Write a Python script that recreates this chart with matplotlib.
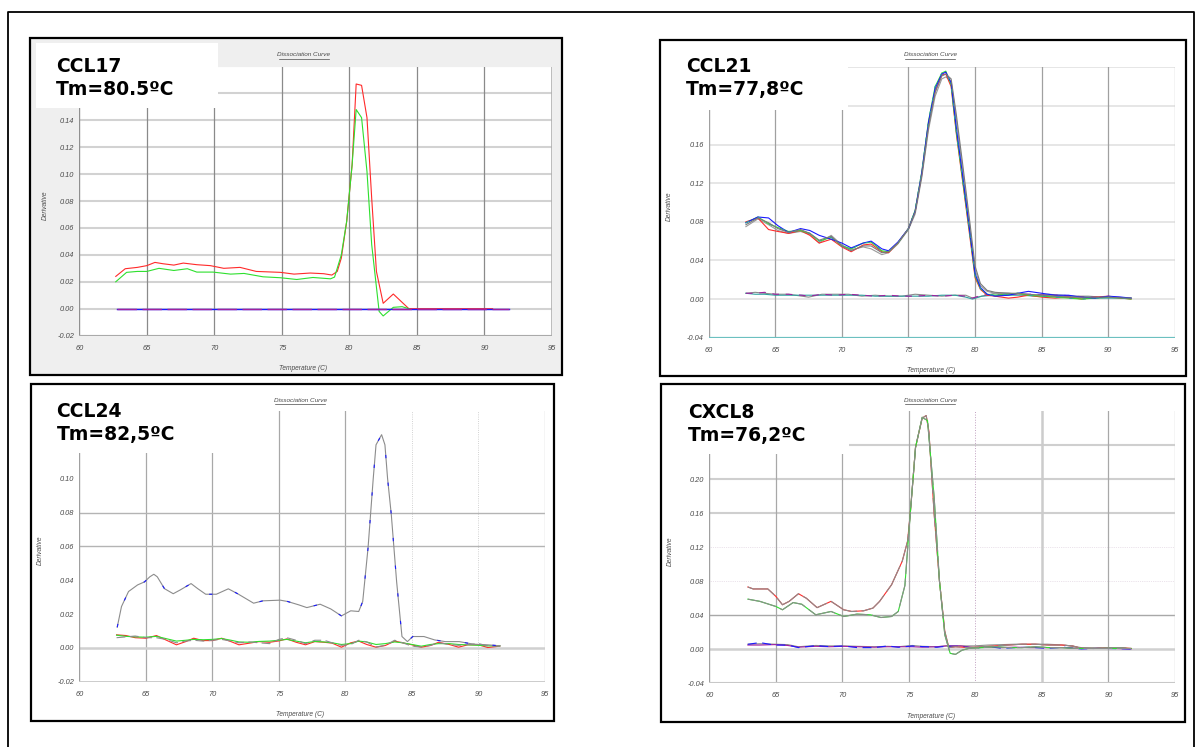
import matplotlib
matplotlib.use("Agg")
import matplotlib.pyplot as plt
from matplotlib.patches import Rectangle
import numpy as np

# ---------------- data ----------------
x_ticks = [60, 65, 70, 75, 80, 85, 90, 95]

# CCL17
ccl17_t_red = [62.7, 63.4, 64.3, 65.0, 65.6, 66.2, 67.0, 67.7, 68.7, 69.7, 70.7, 71.9, 73.1, 74.9, 75.9,
               77.1, 78.1, 78.7, 79.1, 79.4, 79.8, 80.2, 80.5, 80.9, 81.3, 81.65, 82.0, 82.5, 83.25, 84.4,
               86.0, 88.0, 90.0, 90.6]
ccl17_red = [0.024, 0.0297, 0.0307, 0.032, 0.0344, 0.0334, 0.0324, 0.0339, 0.0327, 0.032, 0.030, 0.0307,
             0.0277, 0.027, 0.0257, 0.0265, 0.026, 0.025, 0.0277, 0.0376, 0.065, 0.107, 0.167, 0.166, 0.142,
             0.082, 0.0277, 0.004, 0.0109, 0.000, 0.0, 0.0, 0.0, 0.0]
ccl17_t_green = [62.7, 63.5, 64.3, 65.0, 65.9, 67.0, 68.0, 68.7, 69.9, 71.2, 72.2, 73.6, 74.9, 76.1, 77.3,
                 78.6, 78.9, 79.4, 79.8, 80.2, 80.5, 80.9, 81.3, 81.65, 82.2, 82.5, 83.25, 83.9, 84.4]
ccl17_green = [0.020, 0.027, 0.0277, 0.0277, 0.030, 0.0284, 0.0297, 0.0272, 0.0272, 0.0257, 0.0262, 0.0237,
               0.023, 0.0217, 0.0232, 0.0222, 0.0235, 0.040, 0.065, 0.107, 0.148, 0.142, 0.102, 0.0476,
               -0.002, -0.0054, 0.001, 0.0015, 0.0]
ccl17_t_base = [62.8, 91.8]
ccl17_blue = [0.0, 0.0]
ccl17_purple = [0.0, 0.0]

# CCL21
ccl21_t = [62.8, 63.7, 64.5, 65.2, 66.0, 66.9, 67.6, 68.3, 69.2, 70.0, 70.7, 71.6, 72.2, 73.0, 73.5, 74.2,
           75.0, 75.5, 76.0, 76.5, 77.0, 77.5, 77.8, 78.2, 78.6, 79.1, 79.6, 80.0, 80.4, 80.9, 81.5, 82.5,
           83.2, 84.0, 85.0, 86.0, 87.0, 88.0, 89.0, 90.0, 91.0, 91.7]
ccl21_red = [0.080, 0.084, 0.072, 0.070, 0.068, 0.071, 0.066, 0.058, 0.062, 0.054, 0.049, 0.056, 0.057,
             0.049, 0.048, 0.058, 0.073, 0.091, 0.130, 0.182, 0.215, 0.232, 0.233, 0.220, 0.170, 0.118,
             0.065, 0.022, 0.010, 0.004, 0.003, 0.001, 0.002, 0.004, 0.002, 0.001, 0.002, 0.000, 0.002,
             0.003, 0.001, 0.000]
ccl21_green = [0.079, 0.085, 0.078, 0.074, 0.070, 0.071, 0.068, 0.060, 0.064, 0.055, 0.052, 0.058, 0.059,
               0.050, 0.049, 0.058, 0.073, 0.092, 0.132, 0.184, 0.220, 0.234, 0.236, 0.222, 0.172, 0.120,
               0.068, 0.024, 0.011, 0.005, 0.004, 0.005, 0.006, 0.004, 0.003, 0.002, 0.001, 0.000, 0.001,
               0.002, 0.001, 0.000]
ccl21_blue = [0.079, 0.085, 0.084, 0.076, 0.069, 0.073, 0.071, 0.066, 0.062, 0.058, 0.053, 0.058, 0.060,
              0.052, 0.050, 0.059, 0.073, 0.091, 0.131, 0.183, 0.218, 0.233, 0.235, 0.224, 0.176, 0.124,
              0.070, 0.026, 0.012, 0.005, 0.003, 0.004, 0.006, 0.008, 0.006, 0.004, 0.004, 0.002, 0.001,
              0.003, 0.002, 0.001]
ccl21_gray1 = [0.075, 0.083, 0.077, 0.071, 0.068, 0.070, 0.067, 0.058, 0.066, 0.056, 0.051, 0.054, 0.052,
               0.046, 0.048, 0.057, 0.072, 0.088, 0.126, 0.175, 0.210, 0.228, 0.230, 0.226, 0.185, 0.130,
               0.075, 0.030, 0.014, 0.008, 0.006, 0.006, 0.005, 0.004, 0.004, 0.003, 0.002, 0.001, 0.001,
               0.002, 0.001, 0.001]
ccl21_gray2 = [0.077, 0.084, 0.079, 0.073, 0.069, 0.072, 0.068, 0.061, 0.065, 0.055, 0.050, 0.055, 0.055,
               0.048, 0.049, 0.058, 0.073, 0.090, 0.128, 0.178, 0.214, 0.231, 0.233, 0.228, 0.190, 0.136,
               0.080, 0.034, 0.016, 0.009, 0.007, 0.006, 0.006, 0.005, 0.004, 0.003, 0.002, 0.002, 0.002,
               0.002, 0.001, 0.001]
ccl21_t_base = [62.8, 63.5, 64.2, 65.0, 66.0, 67.0, 67.5, 68.5, 69.5, 70.5, 71.5, 72.5, 73.5, 74.5, 75.5,
                76.5, 77.5, 78.5, 79.3, 79.8, 80.5, 81.5, 82.5, 83.5, 84.5, 85.5, 86.5, 87.5, 88.5, 89.5,
                90.5, 91.7]
ccl21_base_purple = [0.006, 0.006, 0.007, 0.005, 0.005, 0.004, 0.003, 0.005, 0.004, 0.005, 0.004, 0.003,
                     0.004, 0.003, 0.003, 0.004, 0.003, 0.004, 0.003, 0.001, 0.004, 0.005, 0.005, 0.005,
                     0.005, 0.004, 0.004, 0.003, 0.002, 0.002, 0.002, 0.001]
ccl21_base_gray = [0.006, 0.007, 0.006, 0.005, 0.005, 0.003, 0.002, 0.005, 0.005, 0.005, 0.003, 0.004,
                   0.003, 0.003, 0.005, 0.004, 0.003, 0.004, 0.004, 0.001, 0.003, 0.006, 0.006, 0.005,
                   0.004, 0.005, 0.004, 0.003, 0.003, 0.002, 0.002, 0.001]
ccl21_base_teal = [0.006, 0.005, 0.005, 0.004, 0.004, 0.004, 0.004, 0.004, 0.004, 0.004, 0.004, 0.003,
                   0.003, 0.003, 0.003, 0.003, 0.004, 0.004, 0.002, 0.000, 0.003, 0.004, 0.004, 0.004,
                   0.003, 0.003, 0.003, 0.002, 0.002, 0.001, 0.001, 0.001]

# CCL24
ccl24_t_main = [62.85, 63.17, 63.7, 64.38, 64.9, 65.3, 65.6, 65.86, 66.4, 67.06, 67.6, 68.4, 68.9, 69.5,
                70.3, 71.2, 71.9, 73.1, 73.8, 75.1, 75.66, 76.5, 77.1, 78.1, 78.9, 79.7, 80.4, 81.0, 81.3,
                81.7, 82.09, 82.3, 82.72, 82.97, 83.17, 83.45, 83.85, 84.25, 84.66, 85.06, 85.9, 86.7, 87.5,
                88.55, 89.6, 90.7, 91.64]
ccl24_main = [0.0122, 0.0244, 0.0333, 0.0372, 0.039, 0.042, 0.0435, 0.042, 0.035, 0.032, 0.0343, 0.038,
              0.035, 0.0317, 0.0317, 0.0349, 0.032, 0.0264, 0.0278, 0.0282, 0.0274, 0.0254, 0.0238, 0.0258,
              0.023, 0.0189, 0.0219, 0.0215, 0.0274, 0.059, 0.100, 0.120, 0.126, 0.120, 0.100, 0.0786,
              0.039, 0.0067, 0.0037, 0.0067, 0.0067, 0.0047, 0.0037, 0.0037, 0.0022, 0.0018, 0.0012]
ccl24_t_low = [62.8, 63.5, 64.2, 65.0, 65.8, 66.5, 67.3, 68.0, 68.6, 69.3, 70.0, 70.7, 71.4, 72.0, 72.8,
               73.5, 74.3, 75.0, 75.6, 76.3, 77.0, 77.7, 78.4, 79.0, 79.7, 80.4, 81.0, 81.6, 82.3, 83.0,
               83.7, 84.3, 85.0, 85.7, 86.4, 87.0, 87.8, 88.5, 89.2, 90.0, 90.7, 91.6]
ccl24_red = [0.0077, 0.0073, 0.006, 0.0057, 0.0073, 0.0047, 0.0018, 0.0037, 0.0057, 0.0043, 0.0043, 0.0057,
             0.0037, 0.0018, 0.0028, 0.0037, 0.0033, 0.0041, 0.0053, 0.0033, 0.0018, 0.0037, 0.0033, 0.0028,
             0.0004, 0.003, 0.004, 0.002, 0.0004, 0.0014, 0.004, 0.003, 0.0018, 0.0004, 0.0014, 0.0033,
             0.002, 0.0004, 0.0018, 0.0018, 0.0002, 0.001]
ccl24_green = [0.0075, 0.0068, 0.0065, 0.0063, 0.0068, 0.0055, 0.004, 0.0045, 0.005, 0.0048, 0.005, 0.0055,
               0.0045, 0.0035, 0.0033, 0.0038, 0.004, 0.0045, 0.005, 0.004, 0.003, 0.0038, 0.0035, 0.003,
               0.002, 0.0025, 0.004, 0.0035, 0.002, 0.0025, 0.0035, 0.003, 0.002, 0.001, 0.002, 0.0025,
               0.0025, 0.002, 0.0018, 0.0015, 0.0012, 0.0012]
ccl24_gray = [0.006, 0.0065, 0.007, 0.006, 0.006, 0.005, 0.003, 0.004, 0.0045, 0.004, 0.0045, 0.005, 0.004,
              0.003, 0.0035, 0.003, 0.0025, 0.005, 0.006, 0.0045, 0.0025, 0.0045, 0.0045, 0.003, 0.0015,
              0.002, 0.0045, 0.0035, 0.0005, 0.0015, 0.0045, 0.003, 0.001, 0.0005, 0.0015, 0.003, 0.002,
              0.0015, 0.002, 0.0025, 0.0012, 0.001]

# CXCL8
cxcl8_t_red = [62.9, 63.3, 64.4, 65.0, 65.5, 66.0, 66.7, 67.3, 68.1, 69.15, 70.1, 70.7, 71.6, 72.3, 72.8,
               73.7, 74.5, 74.9, 75.1, 75.5, 76.0, 76.3, 76.5, 76.9, 77.3, 77.7, 78.0, 78.5, 79.5, 80.5,
               81.5, 82.5, 83.5, 84.5, 85.5, 86.5, 87.3, 88.0, 89.0, 90.0, 91.0, 91.7]
cxcl8_red = [0.0733, 0.071, 0.071, 0.0623, 0.0524, 0.0564, 0.0654, 0.060, 0.049, 0.0564, 0.0465, 0.0445,
             0.0453, 0.0485, 0.0564, 0.076, 0.1036, 0.127, 0.159, 0.2376, 0.272, 0.275, 0.257, 0.159, 0.080,
             0.021, 0.002, 0.003, 0.002, 0.003, 0.004, 0.005, 0.006, 0.006, 0.005, 0.005, 0.004, 0.001,
             0.001, 0.002, 0.002, 0.001]
cxcl8_t_green = [62.9, 63.8, 65.0, 65.5, 66.3, 66.95, 68.0, 69.15, 70.1, 71.1, 72.1, 72.9, 73.7, 74.2, 74.7,
                 75.1, 75.5, 76.0, 76.4, 76.9, 77.3, 77.7, 78.1, 78.5, 79.0, 79.5, 80.5, 81.5, 82.5, 83.5,
                 84.5, 85.5, 86.5, 87.5, 88.5, 89.5, 90.5, 91.7]
cxcl8_green = [0.059, 0.0564, 0.0504, 0.0465, 0.055, 0.053, 0.0406, 0.0445, 0.0386, 0.0414, 0.0406, 0.0374,
               0.0386, 0.0445, 0.075, 0.159, 0.2376, 0.273, 0.269, 0.1785, 0.080, 0.017, -0.0047, -0.006,
               -0.001, 0.001, 0.002, 0.003, 0.002, 0.002, 0.003, 0.002, 0.002, 0.001, 0.001, 0.001, 0.001,
               0.001]
cxcl8_t_base = [62.9, 63.8, 64.9, 65.9, 66.7, 68.0, 69.0, 70.1, 71.1, 72.4, 73.4, 74.2, 75.25, 76.0, 77.1,
                77.8, 78.9, 79.9, 80.95, 82.0, 83.0, 84.1, 85.4, 86.65, 87.95, 89.25, 90.5, 91.7]
cxcl8_blue = [0.0059, 0.0079, 0.005, 0.005, 0.002, 0.0043, 0.0032, 0.0039, 0.002, 0.002, 0.0039, 0.0024,
              0.0039, 0.0032, 0.0024, 0.0035, 0.0035, 0.0012, 0.0032, 0.0012, 0.002, 0.0024, 0.0012, 0.0024,
              0.0004, 0.0012, 0.0008, 0.0004]
cxcl8_purple = [0.005, 0.005, 0.0055, 0.0045, 0.0025, 0.0035, 0.003, 0.0035, 0.003, 0.0025, 0.003, 0.003,
                0.003, 0.0025, 0.003, 0.004, 0.004, 0.002, 0.0025, 0.002, 0.0025, 0.002, 0.002, 0.002, 0.001,
                0.001, 0.001, 0.0005]
cxcl8_gray = [0.006, 0.0065, 0.006, 0.0055, 0.003, 0.0045, 0.004, 0.004, 0.0035, 0.003, 0.0035, 0.003,
              0.0045, 0.0035, 0.003, 0.004, 0.004, 0.004, 0.005, 0.0055, 0.006, 0.006, 0.006, 0.005, 0.002,
              0.0015, 0.001, 0.0008]

labels = [("CCL17", "Tm=80.5ºC"), ("CCL21", "Tm=77,8ºC"), ("CCL24", "Tm=82,5ºC"), ("CXCL8", "Tm=76,2ºC")]
title_text = "Dissociation Curve"
xlabel_text = "Temperature (C)"
ylabel_text = "Derivative"

# ---------------- styles ----------------
RED, GREEN, BLUE = "#ff2a2a", "#2ee02e", "#1a1aff"
GRAY, PURPLE, TEAL = "#8c8c8c", "#a020a0", "#2fa0a0"
LW = 0.8
SMALL = dict(family="Liberation Sans", style="italic", color="#4a4a4a")

W, H = 1196, 747
fig = plt.figure(figsize=(W / 100, H / 100), dpi=100)


def px_axes(l, t, r, b, z=1):
    return fig.add_axes([l / W, 1 - b / H, (r - l) / W, (b - t) / H], zorder=z)


bg = fig.add_axes([0, 0, 1, 1], zorder=0)
bg.set_xlim(0, W)
bg.set_ylim(H, 0)
bg.axis("off")
bg.plot([7.5, 7.5, 1194, 1194], [H + 5, 11.5, 11.5, H + 5], color="black", lw=1.3)

panels = [(30, 38, 562, 374.5, "#efefef"), (660, 40, 1185.5, 376, "white"),
          (31, 383.5, 554, 720.7, "white"), (661, 383.5, 1185, 721.7, "white")]
for (l, t, r, b, fc) in panels:
    bg.add_patch(Rectangle((l, t), r - l, b - t, facecolor=fc, edgecolor="black", lw=1.6))


def setup(ax, ylim, ystep, hidden_top):
    ax.set_xlim(60, 95)
    ax.set_ylim(*ylim)
    ax.set_facecolor("white")
    ax.set_xticks(x_ticks)
    ax.set_xticklabels([str(v) for v in x_ticks])
    yt = np.round(np.arange(ylim[0], ylim[1] + 1e-9, ystep), 4)
    ax.set_yticks(yt)
    # the top tick labels sit under the white label box in the reference
    ax.set_yticklabels(["%.2f" % v if i < len(yt) - hidden_top else "" for i, v in enumerate(yt)])
    ax.tick_params(axis="x", length=0, pad=6.5)
    ax.tick_params(axis="y", length=0, pad=3.5)
    for lab in ax.get_xticklabels() + ax.get_yticklabels():
        lab.set_fontsize(5.3)
        lab.set_fontfamily("Liberation Sans")
        lab.set_fontstyle("italic")
        lab.set_color("#4a4a4a")
    for s in ax.spines.values():
        s.set_visible(False)


def vline(ax, x, c, lw, ls="-"):
    ax.axvline(x, color=c, lw=lw, ls=ls, zorder=0.5)


def hline(ax, y, c, lw, ls="-"):
    ax.axhline(y, color=c, lw=lw, ls=ls, zorder=0.5)


# ---- Panel 1: CCL17 ----
a1 = px_axes(79.3, 66.5, 552, 335.6)
setup(a1, (-0.02, 0.18), 0.02, 2)
for yv in np.arange(-0.02, 0.181, 0.02):
    hline(a1, yv, "#d2d2d2", 1.5)
for xv in [65, 70, 75, 80, 85, 90]:
    vline(a1, xv, "#8a8a8a", 0.9)
vline(a1, 60, "#909090", 1.0)
vline(a1, 95, "#b0b0b0", 1.2)
hline(a1, -0.02, "#aaaaaa", 1.5)
a1.plot(ccl17_t_red, ccl17_red, color=RED, lw=LW)
a1.plot(ccl17_t_green, ccl17_green, color=GREEN, lw=LW)
a1.plot(ccl17_t_base, ccl17_blue, color=BLUE, lw=1.0)
a1.plot(ccl17_t_base, ccl17_purple, color=PURPLE, lw=1.0, dashes=[14, 4])

# ---- Panel 2: CCL21 ----
a2 = px_axes(708.6, 67.3, 1175, 337.7)
setup(a2, (-0.04, 0.24), 0.04, 2)
for yv in np.arange(0.0, 0.241, 0.04):
    hline(a2, yv, "#e2e2e2", 1.2)
for xv in [65, 70, 75, 80, 85, 90]:
    vline(a2, xv, "#a0a0a0", 0.9)
vline(a2, 60, "#a0a0a0", 1.0)
vline(a2, 95, "#c8c8c8", 1.0)
hline(a2, -0.04, "#6cc0c0", 1.6)
a2.plot(ccl21_t_base, ccl21_base_gray, color=GRAY, lw=LW)
a2.plot(ccl21_t_base, ccl21_base_teal, color=TEAL, lw=LW)
a2.plot(ccl21_t_base, ccl21_base_purple, color=PURPLE, lw=LW, dashes=[6, 6])
a2.plot(ccl21_t, ccl21_gray1, color="#9a9a9a", lw=LW)
a2.plot(ccl21_t, ccl21_red, color=RED, lw=LW)
a2.plot(ccl21_t, ccl21_green, color=GREEN, lw=LW)
a2.plot(ccl21_t, ccl21_blue, color=BLUE, lw=LW)
a2.plot(ccl21_t, ccl21_green, color=TEAL, lw=LW, dashes=[3, 9])
a2.plot(ccl21_t, ccl21_gray2, color="#7a7a7a", lw=LW)

# ---- Panel 3: CCL24 ----
a3 = px_axes(79.3, 411, 545, 681.7)
setup(a3, (-0.02, 0.14), 0.02, 2)
for xv in [65, 70, 75, 80]:
    vline(a3, xv, "#a8a8a8", 0.9)
for xv in [85, 90]:
    vline(a3, xv, "#c4c4c4", 0.6, ":")
for yv in [0.06, 0.08]:
    hline(a3, yv, "#b4b4b4", 1.0)
hline(a3, 0.0, "#d0d0d0", 1.8)
vline(a3, 60, "#a0a0a0", 1.0)
vline(a3, 95, "#cccccc", 1.0)
hline(a3, -0.02, "#c8c8c8", 1.3)
a3.plot(ccl24_t_low, ccl24_red, color=RED, lw=LW)
a3.plot(ccl24_t_low, ccl24_green, color=GREEN, lw=LW)
a3.plot(ccl24_t_low, ccl24_gray, color=GRAY, lw=LW, dashes=[8, 4])
a3.plot(ccl24_t_main, ccl24_main, color=GRAY, lw=LW)
a3.plot(ccl24_t_main, ccl24_main, color=BLUE, lw=LW, dashes=[3, 22])

# ---- Panel 4: CXCL8 ----
a4 = px_axes(709.3, 411.3, 1175, 683.3)
setup(a4, (-0.04, 0.28), 0.04, 2)
for yv in [0.16, 0.20, 0.24]:
    hline(a4, yv, "#cfcfcf", 1.5)
for yv in [0.08, 0.12]:
    hline(a4, yv, "#d8c8d8", 0.5, ":")
hline(a4, 0.04, "#a8a8a8", 1.0)
hline(a4, 0.0, "#d0d0d0", 1.8)
for xv in [65, 70, 75, 90]:
    vline(a4, xv, "#a8a8a8", 0.9)
vline(a4, 80, "#c0a0c0", 0.7, ":")
vline(a4, 85, "#cccccc", 1.8)
vline(a4, 60, "#a0a0a0", 1.0)
vline(a4, 95, "#cccccc", 1.0)
hline(a4, -0.04, "#c8c8c8", 1.5)
a4.plot(cxcl8_t_base, cxcl8_gray, color=GRAY, lw=LW)
a4.plot(cxcl8_t_base, cxcl8_purple, color=PURPLE, lw=LW)
a4.plot(cxcl8_t_base, cxcl8_blue, color=BLUE, lw=LW, dashes=[8, 5])
a4.plot(cxcl8_t_red, cxcl8_red, color=RED, lw=LW)
a4.plot(cxcl8_t_red, cxcl8_red, color=GRAY, lw=LW, dashes=[26, 4])
a4.plot(cxcl8_t_green, cxcl8_green, color=GREEN, lw=LW)
a4.plot(cxcl8_t_green, cxcl8_green, color=GRAY, lw=LW, dashes=[26, 4])

# ---------------- overlay texts ----------------
fg = fig.add_axes([0, 0, 1, 1], zorder=5)
fg.set_xlim(0, W)
fg.set_ylim(H, 0)
fg.axis("off")
fg.patch.set_alpha(0)

boxes = [(36, 43.3, 218, 108.5), (662, 42, 848, 110), (35, 386, 240, 453), (663, 386, 849, 454)]
for (l, t, r, b) in boxes:
    fg.add_patch(Rectangle((l, t), r - l, b - t, facecolor="white", edgecolor="none"))

label_pos = [(56, 72.3, 95.3), (686, 72.3, 95.3), (56.5, 417, 440), (688, 417.5, 440.5)]
for (name, tm), (x, y1, y2) in zip(labels, label_pos):
    fg.text(x, y1, name, fontsize=13.5, fontweight="bold", family="DejaVu Sans", va="baseline", ha="left")
    fg.text(x, y2, tm, fontsize=13.5, fontweight="bold", family="DejaVu Sans", va="baseline", ha="left")

titles = [(303.5, 55), (930, 55), (300, 400), (930, 400.5)]
for (x, y) in titles:
    fg.text(x, y, title_text, fontsize=4.6, ha="center", va="center", **SMALL)
    fg.plot([x - 25, x + 25], [y + 3.8, y + 3.8], color="#4a4a4a", lw=0.5)

xlabs = [(303, 368), (931, 370.5), (300, 715), (931, 716.5)]
for (x, y) in xlabs:
    fg.text(x, y, xlabel_text, fontsize=4.8, ha="center", va="center", **SMALL)

ylabs = [(45, 205), (669, 206), (40, 550), (670, 551.5)]
for (x, y) in ylabs:
    fg.text(x, y, ylabel_text, fontsize=4.8, ha="center", va="center", rotation=90, **SMALL)

fig.savefig("out.png", dpi=100)
